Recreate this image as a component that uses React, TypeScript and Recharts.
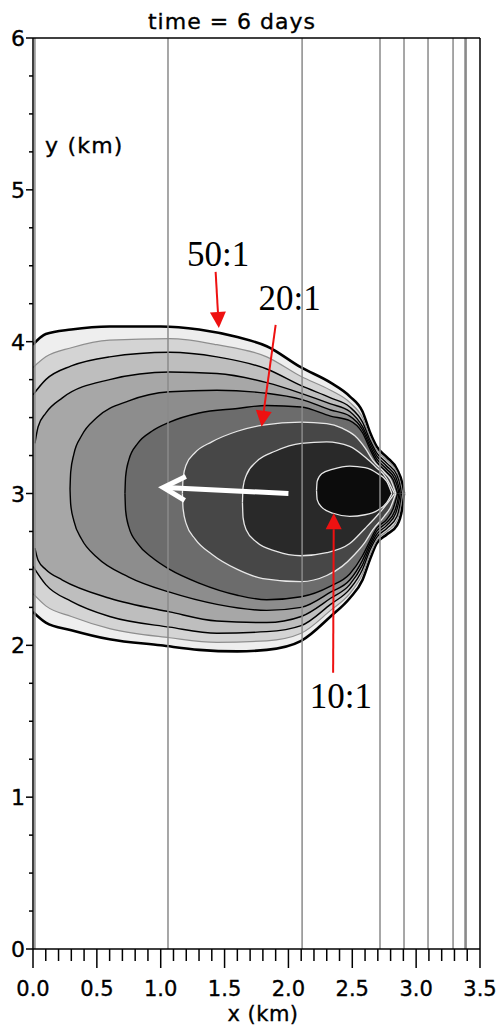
import React from "react";
import { Area, ComposedChart, ReferenceDot, ReferenceLine, XAxis, YAxis } from "recharts";

// contour levels from the outer edge inwards: [x km, lower y km, upper y km]
const c0 = [
  [0, 2.22, 3.98], [0.1, 2.15, 4.05], [0.3, 2.1, 4.08], [0.6, 2.04, 4.1], [1.0, 2.0, 4.1],
  [1.3, 1.97, 4.08], [1.6, 1.96, 4.03], [1.83, 1.97, 3.97], [2.1, 2.03, 3.83], [2.33, 2.19, 3.73],
  [2.48, 2.31, 3.64], [2.58, 2.43, 3.54], [2.64, 2.57, 3.4], [2.69, 2.67, 3.31], [2.77, 2.73, 3.24],
  [2.85, 2.79, 3.16], [2.89, 2.9, 3.07], [2.905, 3.0, 3.0],
];
const c1 = [
  [0, 2.34, 3.83], [0.1, 2.26, 3.9], [0.3, 2.19, 3.96], [0.6, 2.11, 4.01], [1.07, 2.05, 4.02],
  [1.44, 2.02, 3.98], [1.83, 2.03, 3.9], [2.1, 2.08, 3.77], [2.33, 2.23, 3.68], [2.48, 2.34, 3.6],
  [2.58, 2.47, 3.5], [2.64, 2.6, 3.37], [2.69, 2.69, 3.29], [2.77, 2.75, 3.22], [2.85, 2.82, 3.14],
  [2.88, 2.92, 3.06], [2.895, 3.0, 3.0],
];
const c2 = [
  [0, 2.52, 3.65], [0.1, 2.4, 3.75], [0.3, 2.29, 3.84], [0.6, 2.19, 3.9], [1.07, 2.12, 3.93],
  [1.44, 2.08, 3.9], [1.83, 2.09, 3.82], [2.1, 2.13, 3.71], [2.33, 2.27, 3.63], [2.48, 2.37, 3.57],
  [2.58, 2.5, 3.47], [2.64, 2.63, 3.35], [2.69, 2.71, 3.27], [2.77, 2.77, 3.2], [2.85, 2.85, 3.12],
  [2.875, 2.94, 3.05], [2.885, 3.0, 3.0],
];
const c3 = [
  [0.015, 2.64, 3.33], [0.04, 2.56, 3.44], [0.1, 2.5, 3.53], [0.23, 2.43, 3.63], [0.6, 2.31, 3.75],
  [1.07, 2.22, 3.8], [1.44, 2.16, 3.79], [1.83, 2.15, 3.73], [2.1, 2.19, 3.66], [2.33, 2.31, 3.59],
  [2.48, 2.4, 3.54], [2.58, 2.53, 3.44], [2.64, 2.65, 3.33], [2.69, 2.73, 3.25], [2.77, 2.79, 3.18],
  [2.84, 2.87, 3.11], [2.865, 2.95, 3.04], [2.875, 3.0, 3.0],
];
const c4 = [
  [0.29, 3.03, 3.03], [0.295, 2.93, 3.14], [0.32, 2.82, 3.26], [0.38, 2.7, 3.38], [0.5, 2.58, 3.5],
  [0.75, 2.45, 3.61], [1.07, 2.35, 3.67], [1.44, 2.27, 3.68], [1.83, 2.23, 3.66], [2.1, 2.25, 3.62],
  [2.33, 2.35, 3.55], [2.48, 2.43, 3.51], [2.58, 2.56, 3.42], [2.64, 2.67, 3.31], [2.69, 2.75, 3.23],
  [2.77, 2.81, 3.16], [2.83, 2.88, 3.1], [2.855, 2.95, 3.04], [2.865, 3.0, 3.0],
];
const c5 = [
  [0.72, 3.0, 3.0], [0.725, 2.89, 3.11], [0.75, 2.78, 3.22], [0.82, 2.67, 3.33], [0.93, 2.58, 3.41],
  [1.07, 2.5, 3.47], [1.3, 2.41, 3.53], [1.6, 2.33, 3.56], [1.83, 2.3, 3.58], [2.1, 2.32, 3.57],
  [2.33, 2.39, 3.51], [2.48, 2.47, 3.48], [2.58, 2.59, 3.4], [2.64, 2.69, 3.29], [2.69, 2.77, 3.21],
  [2.77, 2.83, 3.14], [2.82, 2.9, 3.09], [2.855, 3.0, 3.0],
];
// 20:1
const c6 = [
  [1.17, 3.0, 3.0], [1.175, 2.9, 3.1], [1.2, 2.8, 3.19], [1.27, 2.7, 3.27], [1.4, 2.6, 3.34],
  [1.6, 2.5, 3.41], [1.8, 2.44, 3.45], [2.1, 2.42, 3.47], [2.3, 2.46, 3.46], [2.42, 2.52, 3.43],
  [2.52, 2.6, 3.38], [2.6, 2.68, 3.3], [2.66, 2.76, 3.22], [2.75, 2.85, 3.14], [2.8, 2.91, 3.09],
  [2.84, 3.0, 3.0],
];
const c7 = [
  [1.64, 2.94, 2.94], [1.645, 2.84, 3.04], [1.67, 2.76, 3.12], [1.75, 2.68, 3.21], [1.9, 2.62, 3.28],
  [2.1, 2.59, 3.33], [2.3, 2.61, 3.34], [2.48, 2.67, 3.31], [2.6, 2.77, 3.24], [2.69, 2.85, 3.17],
  [2.76, 2.92, 3.11], [2.83, 3.0, 3.0],
];
// 10:1
const c8 = [
  [2.22, 3.02, 3.02], [2.225, 2.96, 3.08], [2.26, 2.91, 3.13], [2.35, 2.87, 3.16], [2.48, 2.85, 3.18],
  [2.6, 2.86, 3.17], [2.7, 2.89, 3.13], [2.77, 2.94, 3.08], [2.81, 3.0, 3.0],
];

const contours = [c0, c1, c2, c3, c4, c5, c6, c7, c8];
const fills = ["#eeeeee", "#d4d4d4", "#bebebe", "#a7a7a7", "#8d8d8d", "#6c6c6c", "#474747", "#292929", "#0c0c0c"];
const strokes = ["#000", "#8e8e8e", "#000", "#000", "#000", "#000", "#e8e8e8", "#e8e8e8", "#e8e8e8"];
const widths = [2.6, 1.2, 1.4, 1.4, 1.4, 1.4, 1.3, 1.3, 1.3];

// vertical grid lines (km)
const gridX = [0.015, 1.057, 2.107, 2.717, 2.905, 3.093, 3.289, 3.387];

const xTicks = [
  0, 0.1, 0.2, 0.3, 0.4, 0.5, 0.6, 0.7, 0.8, 0.9, 1, 1.1, 1.2, 1.3, 1.4, 1.5, 1.6, 1.7,
  1.8, 1.9, 2, 2.1, 2.2, 2.3, 2.4, 2.5, 2.6, 2.7, 2.8, 2.9, 3, 3.1, 3.2, 3.3, 3.4, 3.5,
];
const xMajor = [0, 0.5, 1, 1.5, 2, 2.5, 3, 3.5];
const yTicks = [
  0, 0.25, 0.5, 0.75, 1, 1.25, 1.5, 1.75, 2, 2.25, 2.5, 2.75, 3, 3.25, 3.5, 3.75, 4, 4.25,
  4.5, 4.75, 5, 5.25, 5.5, 5.75, 6,
];
const yMajor = [0, 1, 2, 3, 4, 5, 6];

// annotations
const ratioLabels = ["50:1", "20:1", "10:1"];
const ratioLabelAt = [
  { x: 1.45, y: 4.58 },
  { x: 2.01, y: 4.29 },
  { x: 2.41, y: 1.67 },
];
const redArrows = [
  [{ x: 1.43, y: 4.46 }, { x: 1.455, y: 4.09 }],
  [{ x: 1.9, y: 4.11 }, { x: 1.79, y: 3.44 }],
  [{ x: 2.35, y: 1.82 }, { x: 2.355, y: 2.87 }],
];
const whiteArrow = [{ x: 2.0, y: 3.0 }, { x: 1.02, y: 3.04 }];

const table = Array.from(new Set(contours.flatMap((c) => c.map((p) => p[0]))))
  .sort((a, b) => a - b)
  .map((x) => {
    const row: any = { x };
    contours.forEach((c, i) => {
      const p = c.find((q) => q[0] === x);
      row["c" + i] = p ? [p[1], p[2]] : null;
    });
    return row;
  });

const FONT = "DejaVu Sans, Verdana, sans-serif";
const SERIF = "Liberation Serif, Times New Roman, serif";

const XTick = (props: any) => {
  const { x, y, payload } = props;
  const major = xMajor.includes(payload.value);
  return (
    <g>
      <line x1={x} y1={y} x2={x} y2={y + (major ? 19 : 12)} stroke="#000" strokeWidth={1.5} />
      {major && (
        <text x={x} y={y + 47} textAnchor="middle" fontSize={21} fontFamily={FONT} fill="#000" stroke="#000" strokeWidth={0.35}>
          {payload.value.toFixed(1)}
        </text>
      )}
    </g>
  );
};

const YTick = (props: any) => {
  const { x, y, payload } = props;
  const major = yMajor.includes(payload.value);
  return (
    <g>
      <line x1={x - (major ? 7 : 4)} y1={y} x2={x} y2={y} stroke="#000" strokeWidth={1.5} />
      {major && (
        <text x={x - 8} y={y + 8} textAnchor="end" fontSize={22} fontFamily={FONT} fill="#000" stroke="#000" strokeWidth={0.35}>
          {payload.value}
        </text>
      )}
    </g>
  );
};

const redArrowShape = (p: any) => {
  const { x1, y1, x2, y2 } = p;
  const a = Math.atan2(y2 - y1, x2 - x1);
  const len = 16;
  const hw = 8;
  const bx = x2 - len * Math.cos(a);
  const by = y2 - len * Math.sin(a);
  const nx = -Math.sin(a) * hw;
  const ny = Math.cos(a) * hw;
  return (
    <g>
      <line x1={x1} y1={y1} x2={bx} y2={by} stroke="#ee1111" strokeWidth={2} />
      <polygon points={`${x2},${y2} ${bx + nx},${by + ny} ${bx - nx},${by - ny}`} fill="#ee1111" />
    </g>
  );
};

const whiteArrowShape = (p: any) => {
  const { x1, y1, x2, y2 } = p;
  const a = Math.atan2(y2 - y1, x2 - x1);
  const len = 22;
  const hw = 12;
  const bx = x2 - len * Math.cos(a);
  const by = y2 - len * Math.sin(a);
  const nx = -Math.sin(a) * hw;
  const ny = Math.cos(a) * hw;
  return (
    <g>
      <line x1={x1} y1={y1} x2={x2 - 2 * Math.cos(a)} y2={y2 - 2 * Math.sin(a)} stroke="#fff" strokeWidth={5} />
      <polyline
        points={`${bx + nx},${by + ny} ${x2},${y2} ${bx - nx},${by - ny}`}
        fill="none"
        stroke="#fff"
        strokeWidth={5}
        strokeLinejoin="miter"
      />
    </g>
  );
};

export default function App() {
  return (
    <div style={{ position: "absolute", left: 0, top: 0, width: 500, height: 1028, background: "#fff" }}>
      <ComposedChart width={500} height={1028} data={table} margin={{ top: 38, right: 20, bottom: 0, left: 0 }}>
        <XAxis
          dataKey="x"
          type="number"
          domain={[0, 3.5]}
          allowDataOverflow
          ticks={xTicks}
          interval={0}
          tick={<XTick />}
          tickLine={false}
          tickSize={0}
          tickMargin={0}
          height={79}
          axisLine={{ stroke: "#000", strokeWidth: 1.5 }}
        />
        <YAxis
          type="number"
          domain={[0, 6]}
          allowDataOverflow
          ticks={yTicks}
          interval={0}
          tick={<YTick />}
          tickLine={false}
          tickSize={0}
          tickMargin={0}
          width={33}
          axisLine={{ stroke: "#000", strokeWidth: 1.5 }}
        />
        {contours.map((_, i) => (
          <Area
            key={i}
            dataKey={"c" + i}
            type="monotone"
            connectNulls
            fill={fills[i]}
            fillOpacity={1}
            stroke={strokes[i]}
            strokeWidth={widths[i]}
            dot={false}
            activeDot={false}
            isAnimationActive={false}
          />
        ))}
        {gridX.map((gx, i) => (
          <ReferenceLine
            key={"g" + i}
            x={gx}
            stroke="#8a8a8a"
            strokeWidth={i === gridX.length - 1 ? 2.6 : 1.5}
          />
        ))}
        <ReferenceLine x={3.5} stroke="#000" strokeWidth={1.5} />
        <ReferenceLine y={6} stroke="#000" strokeWidth={1.5} />
        <ReferenceLine segment={whiteArrow} shape={whiteArrowShape} />
        {redArrows.map((seg, i) => (
          <ReferenceLine key={"r" + i} segment={seg} shape={redArrowShape} />
        ))}
        {ratioLabels.map((t, i) => (
          <ReferenceDot
            key={"t" + i}
            x={ratioLabelAt[i].x}
            y={ratioLabelAt[i].y}
            r={0}
            shape={(p: any) => (
              <text x={p.cx} y={p.cy} dy="0.35em" textAnchor="middle" fontSize={35} fontFamily={SERIF} fill="#000">
                {t}
              </text>
            )}
          />
        ))}
      </ComposedChart>
      <svg width={500} height={1028} style={{ position: "absolute", left: 0, top: 0, pointerEvents: "none" }}>
        <g fontFamily={FONT} fontSize={22} fill="#000" stroke="#000" strokeWidth={0.35}>
          <text x={232} y={29} textAnchor="middle" letterSpacing={1}>
            time = 6 days
          </text>
          <text x={45} y={153} letterSpacing={1.2}>
            y (km)
          </text>
          <text x={263} y={1021} textAnchor="middle" fontSize={21} letterSpacing={0.5}>
            x (km)
          </text>
        </g>
      </svg>
    </div>
  );
}
